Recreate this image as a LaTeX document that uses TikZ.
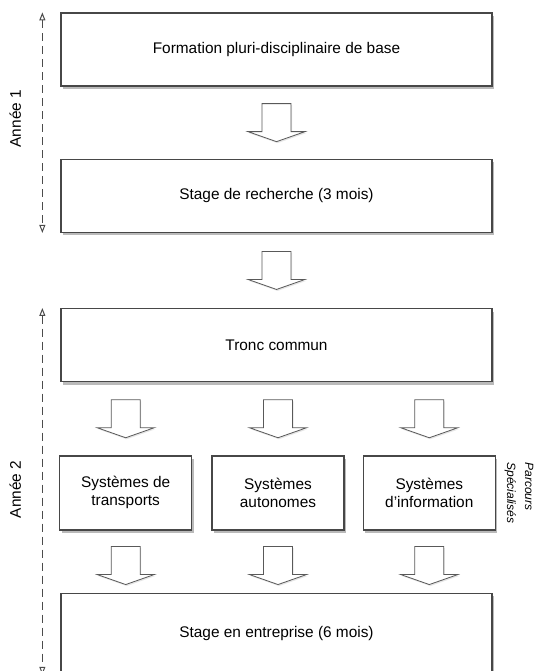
\documentclass[tikz,border=0pt]{standalone}
\usepackage{fontspec}
\setmainfont{Liberation Sans}
\usetikzlibrary{arrows.meta,positioning,calc,shadows}

% flèche large dessinée autour d'un point nommé
\newcommand{\flechebloc}[1]{%
  \draw[blockarr] ($(#1)+(-14.5,19)$) -- ++(29,0) -- ++(0,-28) -- ++(14,0)
    -- ++(-28.5,-10) -- ++(-28.5,10) -- ++(14,0) -- cycle;}

\begin{document}
\begin{tikzpicture}[
  x=1pt, y=1pt,
  font=\fontsize{15.4}{18}\selectfont,
  box/.style={draw=black!72, line width=1.3pt, fill=white, align=center, inner sep=0pt,
    drop shadow={shadow xshift=2pt, shadow yshift=-3pt, fill=black!45, opacity=0.6}},
  bigbox/.style={box, minimum width=431pt, minimum height=73pt},
  smallbox/.style={box, minimum width=132pt, minimum height=74pt},
  blockarr/.style={draw=black!65, line width=0.8pt, fill=white, line join=miter,
    drop shadow={shadow xshift=1pt, shadow yshift=-1.5pt, fill=black!25, opacity=0.4}},
  year/.style={draw=black!70, line width=1pt, dash pattern=on 8pt off 5pt,
    {Triangle[open, length=8pt, width=6pt]}-{Triangle[open, length=8pt, width=6pt]}}
]
  \useasboundingbox (0,0) rectangle (536,-671);

  \node[bigbox] (formation) at (276.5,-49.5) {Formation pluri-disciplinaire de base};
  \node[bigbox, below=72pt of formation] (recherche) {Stage de recherche (3 mois)};
  \node[bigbox, below=75pt of recherche] (tronc) {Tronc commun};

  \node[smallbox, below=73pt of tronc, xshift=1.5pt] (autonomes) {Systèmes\\autonomes};
  \node[smallbox, left=19pt of autonomes] (transports) {Systèmes de\\transports};
  \node[smallbox, right=18pt of autonomes] (info) {Systèmes\\d'information};

  \node[box, minimum width=431pt, minimum height=81pt, below=62pt of autonomes, xshift=-1.5pt] (entreprise) {Stage en entreprise (6 mois)};

  % flèches entre les étapes
  \coordinate (f1) at ($(formation.south)!0.5!(recherche.north)$);
  \coordinate (f2) at ($(recherche.south)!0.5!(tronc.north)$);
  \flechebloc{f1}
  \flechebloc{f2}
  \foreach \p in {transports,autonomes,info} {
    \coordinate (haut-\p) at ($(tronc.south -| \p.north)!0.5!(\p.north)$);
    \coordinate (bas-\p) at ($(\p.south)!0.5!(entreprise.north -| \p.south)+(0,-4)$);
    \flechebloc{haut-\p}
    \flechebloc{bas-\p}
  }

  % années
  \draw[year] ([xshift=-18pt]formation.north west) -- ([xshift=-18pt]recherche.south west);
  \draw[year] ([xshift=-18pt]tronc.north west) -- ([xshift=-18pt]entreprise.south west);
  \node[rotate=90] (annee1) at ($(formation.west)!0.5!(recherche.west)+(-45pt,4pt)$) {Année 1};
  \node[rotate=90] (annee2) at ($(tronc.west)!0.5!(entreprise.west)+(-45pt,0)$) {Année 2};

  \node[rotate=-90, align=left, font=\fontsize{12}{18}\selectfont\itshape] (parcours)
    at ([xshift=23pt]info.east) {Parcours\\Spécialisés};
\end{tikzpicture}
\end{document}
